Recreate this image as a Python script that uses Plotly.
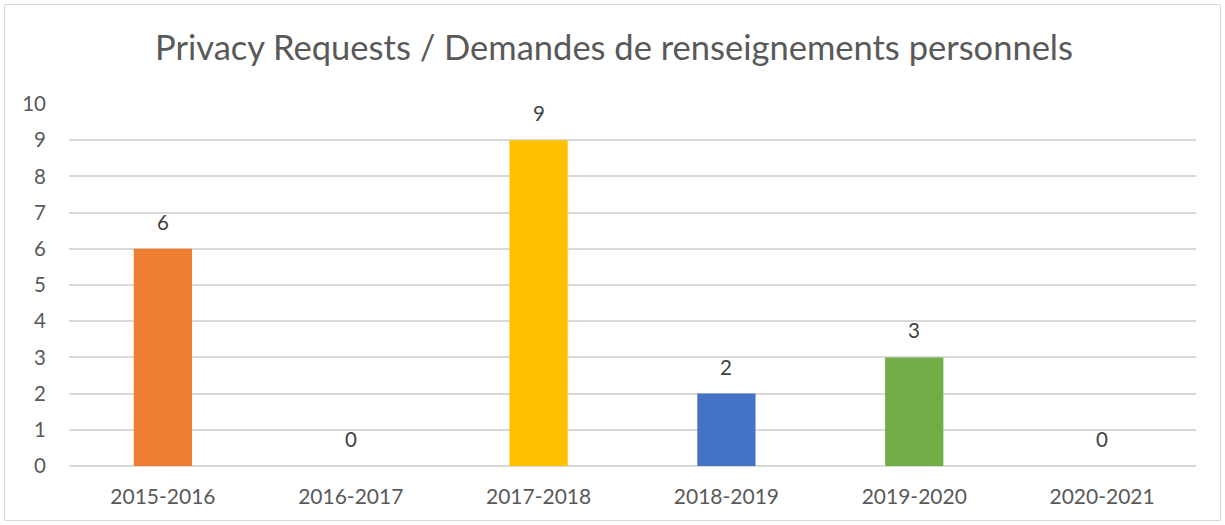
import plotly.graph_objects as go

categories = ["2015-2016", "2016-2017", "2017-2018", "2018-2019", "2019-2020", "2020-2021"]
values = [6, 0, 9, 2, 3, 0]
colors = ["#ED7D31", "#A5A5A5", "#FFC000", "#4472C4", "#70AD47", "#264478"]
title = "Privacy Requests / Demandes de renseignements personnels"

FONT = "Lato"
GREY = "#595959"

fig = go.Figure(go.Bar(x=categories, y=values, marker=dict(color=colors, line=dict(width=0)),
                       hoverinfo="x+y"))

for c, v in zip(categories, values):
    fig.add_annotation(x=c, y=v, text=str(v), showarrow=False, yshift=27,
                       font=dict(family=FONT, size=20.5, color="#404040"))

L, R, T, B = 69, 29, 104, 59
W, H = 1225, 525
pw, ph = W - L - R, H - T - B
fig.add_shape(type="rect", xref="paper", yref="paper",
              x0=(4.5 - L) / pw, x1=(1220.5 - L) / pw,
              y0=(H - B - 520.5) / ph, y1=(H - B - 4.5) / ph,
              line=dict(color="#D9D9D9", width=1), layer="below")

fig.update_layout(
    width=W, height=H,
    margin=dict(l=L, r=R, t=T, b=B),
    paper_bgcolor="white", plot_bgcolor="white",
    bargap=0.69,
    showlegend=False,
    title=dict(text=title, x=(614) / W, xref="container", xanchor="center", y=(H - 48) / H, yanchor="middle",
               font=dict(family=FONT, size=34.5, color=GREY)),
    font=dict(family=FONT, size=21, color=GREY),
)
fig.update_xaxes(showgrid=False, showline=False, ticks="", ticklabelstandoff=16,
                 tickfont=dict(family=FONT, size=21, color=GREY))
fig.update_yaxes(range=[0, 10], dtick=1, showgrid=True, gridcolor="#D9D9D9", gridwidth=1.5,
                 zeroline=True, zerolinecolor="#D9D9D9", zerolinewidth=1.5, showline=False,
                 ticks="", ticklabelstandoff=22, tickfont=dict(family=FONT, size=20.5, color=GREY))

fig.write_html("out.html")
